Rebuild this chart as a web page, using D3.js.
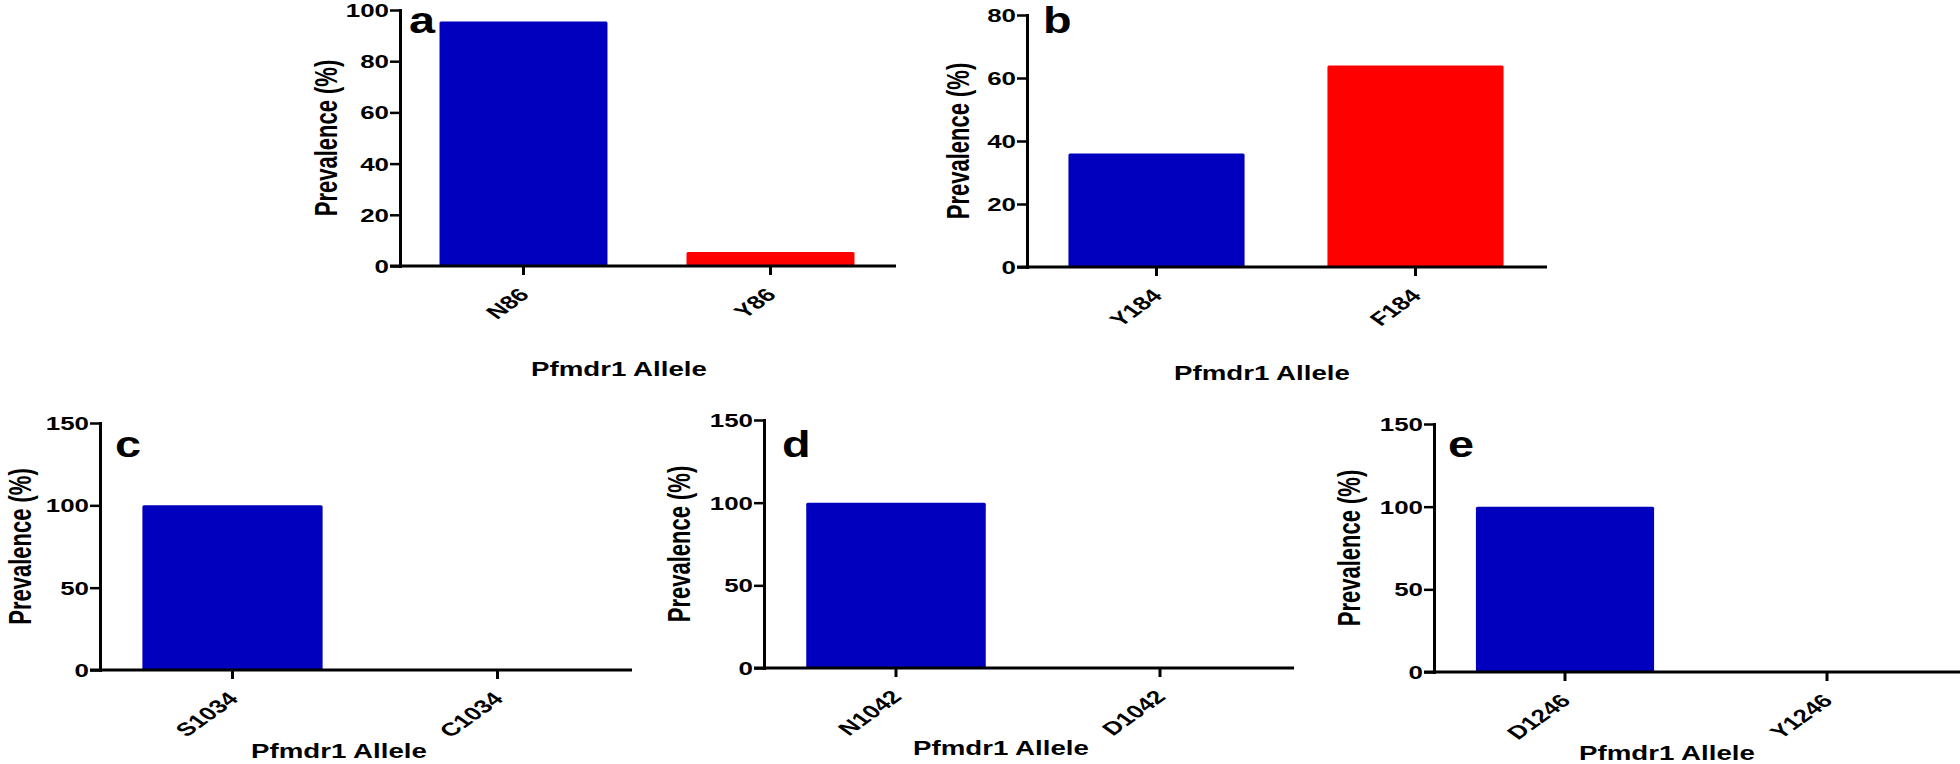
<!DOCTYPE html>
<html>
<head>
<meta charset="utf-8">
<script src="https://cdn.jsdelivr.net/npm/d3@7"></script>
<style>
  html, body { margin: 0; padding: 0; background: #fff; }
  svg { display: block; }
  text { font-family: "Liberation Sans", Arial, sans-serif; font-weight: bold; fill: #000; }
</style>
</head>
<body>
<svg id="chart" width="1960" height="764"></svg>
<script>
// ---- data ----
const panelLetters = ["a", "b", "c", "d", "e"];
const categoriesA = ["N86", "Y86"];
const valuesA = [95.5, 5.5];
const ticksA = [0, 20, 40, 60, 80, 100];
const categoriesB = ["Y184", "F184"];
const valuesB = [36, 64];
const ticksB = [0, 20, 40, 60, 80];
const categoriesC = ["S1034", "C1034"];
const valuesC = [100, 0];
const categoriesD = ["N1042", "D1042"];
const valuesD = [100, 0];
const categoriesE = ["D1246", "Y1246"];
const valuesE = [100, 0];
const ticksCDE = [0, 50, 100, 150];
const yTitle = "Prevalence (%)";
const xTitle = "Pfmdr1 Allele";
const barColors = ["#0000BE", "#FF0000"];

// ---- layout ----
const SX = 1.4; // horizontal stretch of the original figure
const panels = [
  { cats: categoriesA, vals: valuesA, ticks: ticksA, x0: 400, x1: 894, yTop: 10, yZero: 266, letterDx: 9, letterY: 33, yTitleDx: -74, xTitleDx: -28, xTitleY: 376 },
  { cats: categoriesB, vals: valuesB, ticks: ticksB, x0: 1027, x1: 1545, yTop: 15, yZero: 267, letterDx: 16, letterY: 33, yTitleDx: -69, xTitleDx: -24, xTitleY: 380 },
  { cats: categoriesC, vals: valuesC, ticks: ticksCDE, x0: 100, x1: 630, yTop: 423, yZero: 670, letterDx: 15, letterY: 457, yTitleDx: -80, xTitleDx: -26, xTitleY: 758 },
  { cats: categoriesD, vals: valuesD, ticks: ticksCDE, x0: 764, x1: 1292, yTop: 420, yZero: 668, letterDx: 18, letterY: 457, yTitleDx: -85, xTitleDx: -27, xTitleY: 755 },
  { cats: categoriesE, vals: valuesE, ticks: ticksCDE, x0: 1434, x1: 1958, yTop: 424, yZero: 672, letterDx: 14, letterY: 457, yTitleDx: -85, xTitleDx: -29, xTitleY: 760 }
];

const svg = d3.select("#chart");
svg.append("rect").attr("width", 1960).attr("height", 764).attr("fill", "#fff");

panels.forEach((p, i) => {
  const g = svg.append("g");
  const x = d3.scaleBand().domain(p.cats).range([p.x0, p.x1]).paddingInner(0.32).paddingOuter(0.16);
  const yMax = p.ticks[p.ticks.length - 1];
  const y = d3.scaleLinear().domain([0, yMax]).range([p.yZero, p.yTop]);

  // bars
  g.selectAll("rect.bar").data(p.cats.map((c, j) => ({ c, v: p.vals[j], j })))
    .join("rect")
    .attr("class", "bar")
    .attr("x", d => x(d.c))
    .attr("width", x.bandwidth())
    .attr("y", d => y(d.v))
    .attr("height", d => y(0) - y(d.v))
    .attr("rx", 1.5)
    .attr("fill", d => barColors[d.j]);

  // y axis
  const yAxis = g.append("g")
    .attr("transform", `translate(${p.x0},0)`)
    .call(d3.axisLeft(y).tickValues(p.ticks).tickSize(10).tickSizeOuter(0).tickFormat(d3.format("d")));
  yAxis.select(".domain").attr("stroke", "#000").attr("stroke-width", 3).attr("stroke-linecap", "square");
  yAxis.selectAll(".tick line").attr("stroke", "#000").attr("stroke-width", 2.5);
  yAxis.selectAll(".tick text")
    .attr("x", null).attr("dy", null)
    .attr("font-size", 18.5)
    .attr("text-anchor", "end")
    .attr("transform", `translate(-11,6.5) scale(${SX},1)`);

  // x axis
  const xAxis = g.append("g")
    .attr("transform", `translate(0,${p.yZero})`)
    .call(d3.axisBottom(x).tickSize(9).tickSizeOuter(0));
  xAxis.select(".domain").remove();
  xAxis.selectAll(".tick line").attr("stroke", "#000").attr("stroke-width", 3);
  xAxis.selectAll(".tick text")
    .attr("y", null).attr("dy", null)
    .attr("font-size", 18.5)
    .attr("text-anchor", "end")
    .attr("transform", `translate(7,30) scale(${SX},1) rotate(-45)`);
  g.append("line")
    .attr("x1", p.x0 - 10).attr("x2", x.range()[1] + 2)
    .attr("y1", y(0)).attr("y2", y(0))
    .attr("stroke", "#000").attr("stroke-width", 3);

  // y title
  const cy = (p.yTop + p.yZero) / 2;
  g.append("text")
    .attr("transform", `translate(${p.x0 + p.yTitleDx + 11},${cy}) scale(${SX},1) rotate(-90)`)
    .attr("text-anchor", "middle")
    .attr("font-size", 22)
    .text(yTitle);

  // x title
  g.append("text")
    .attr("transform", `translate(${(p.x0 + p.x1) / 2 + p.xTitleDx},${p.xTitleY}) scale(1.35,1)`)
    .attr("text-anchor", "middle")
    .attr("font-size", 20.5)
    .text(xTitle);

  // panel letter
  g.append("text")
    .attr("transform", `translate(${p.x0 + p.letterDx},${p.letterY}) scale(1.3,1)`)
    .attr("font-size", 36)
    .text(panelLetters[i]);
});
</script>
</body>
</html>
